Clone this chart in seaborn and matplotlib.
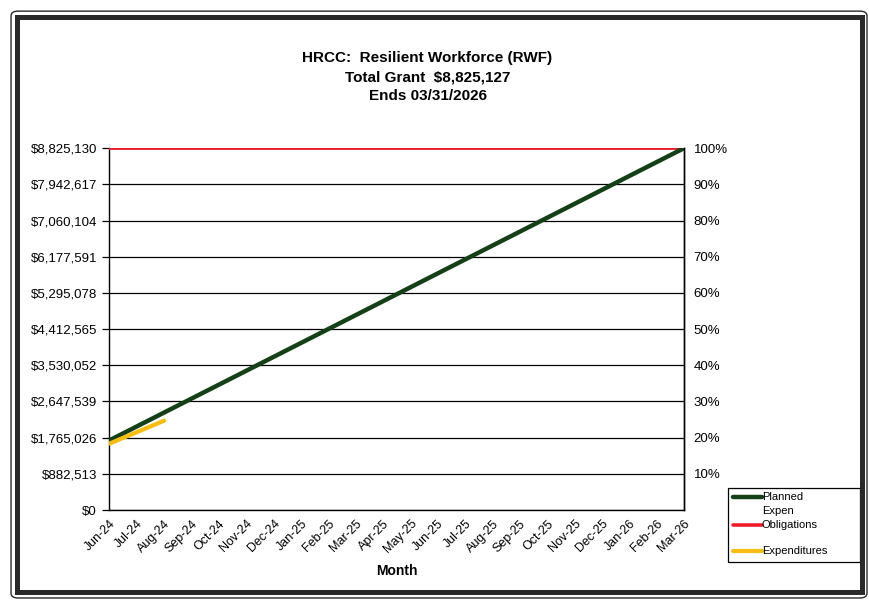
import matplotlib
matplotlib.use("Agg")
import matplotlib.pyplot as plt
from matplotlib.patches import Rectangle, FancyBboxPatch
from matplotlib.lines import Line2D
import seaborn as sns
import pandas as pd

months = ["Jun-24", "Jul-24", "Aug-24", "Sep-24", "Oct-24", "Nov-24", "Dec-24",
          "Jan-25", "Feb-25", "Mar-25", "Apr-25", "May-25", "Jun-25", "Jul-25",
          "Aug-25", "Sep-25", "Oct-25", "Nov-25", "Dec-25", "Jan-26", "Feb-26",
          "Mar-26"]

planned_expen = [1700000, 2039292, 2378584, 2717876, 3057168, 3396460, 3735752,
                 4075044, 4414336, 4753628, 5092920, 5432212, 5771504, 6110796,
                 6450088, 6789380, 7128672, 7467964, 7807256, 8146548, 8485840,
                 8825127]
obligations = [8825127] * 22
expenditures = [1620000, 1900000, 2180000]

y_ticks = [0, 882513, 1765026, 2647539, 3530052, 4412565, 5295078, 6177591,
           7060104, 7942617, 8825130]
y_labels = ["$0", "$882,513", "$1,765,026", "$2,647,539", "$3,530,052",
            "$4,412,565", "$5,295,078", "$6,177,591", "$7,060,104",
            "$7,942,617", "$8,825,130"]
pct_ticks = [0.1, 0.2, 0.3, 0.4, 0.5, 0.6, 0.7, 0.8, 0.9, 1.0]
pct_labels = ["10%", "20%", "30%", "40%", "50%", "60%", "70%", "80%", "90%", "100%"]

title_lines = ["HRCC:  Resilient Workforce (RWF)", "Total Grant  $8,825,127",
               "Ends 03/31/2026"]

green = "#143f17"
red = "#ee1c2a"
yellow = "#f7bd10"

sns.set_theme(style="white")
plt.rcParams["font.family"] = ["Liberation Sans", "DejaVu Sans"]
plt.rcParams["text.color"] = "black"
plt.rcParams["axes.labelcolor"] = "black"
plt.rcParams["xtick.color"] = "black"
plt.rcParams["ytick.color"] = "black"

rows = []
for i in range(len(months)):
    rows.append({"idx": i, "value": planned_expen[i], "series": "Planned Expen"})
    rows.append({"idx": i, "value": obligations[i], "series": "Obligations"})
for i, v in enumerate(expenditures):
    rows.append({"idx": i, "value": v, "series": "Expenditures"})
df = pd.DataFrame(rows)

fig = plt.figure(figsize=(8.69, 6.05), dpi=100)
ax = fig.add_axes([0.126, 0.157, 0.661, 0.598])

palette = {"Planned Expen": green, "Obligations": red, "Expenditures": yellow}
widths = {"Planned Expen": 3.2, "Obligations": 2.0, "Expenditures": 3.0}
for name in ["Obligations", "Planned Expen", "Expenditures"]:
    sub = df[df["series"] == name]
    sns.lineplot(data=sub, x="idx", y="value", color=palette[name],
                 linewidth=widths[name], ax=ax, legend=False, zorder=3)

ax.set_xlim(0, len(months) - 1)
ax.set_ylim(0, y_ticks[-1])
ax.set_yticks(y_ticks)
ax.set_yticklabels(y_labels, fontsize=9.5)
ax.set_xticks(range(len(months)))
ax.set_xticklabels(months, rotation=45, ha="right", rotation_mode="anchor",
                   fontsize=9)
ax.set_xlabel("Month", fontsize=10, fontweight="bold", labelpad=6)
ax.set_ylabel("")
ax.grid(axis="y", color="black", linewidth=0.9)
ax.set_axisbelow(True)
for side in ["left", "bottom", "right"]:
    ax.spines[side].set_color("black")
    ax.spines[side].set_linewidth(1.0)
ax.spines["top"].set_visible(False)
ax.tick_params(axis="x", direction="inout", length=7, width=0.9, pad=2)
ax.tick_params(axis="y", direction="out", length=5, width=0.9, pad=4)

ax2 = ax.twinx()
ax2.set_ylim(0, 1)
ax2.set_yticks(pct_ticks)
ax2.set_yticklabels(pct_labels, fontsize=9.5)
ax2.tick_params(axis="y", direction="out", length=0, pad=7)
for side in ["left", "top", "bottom"]:
    ax2.spines[side].set_visible(False)
ax2.spines["right"].set_color("black")
ax2.spines["right"].set_linewidth(1.0)
ax2.grid(False)

ys = [0.904, 0.872, 0.842]
for t, y in zip(title_lines, ys):
    fig.text(0.492, y, t, ha="center", va="center", fontsize=11,
             fontweight="bold")

# legend box; each handle sits level with the first line of its label
fig.add_artist(Rectangle((0.838, 0.071), 0.152, 0.122, transform=fig.transFigure,
                         fill=False, edgecolor="black", linewidth=0.9))
legend_items = [(["Planned", "Expen"], green, 3.2, 497),
                (["Obligations"], red, 2.6, 525),
                (["Expenditures"], yellow, 3.0, 551)]
for lines, color, lw, py in legend_items:
    yf = 1 - py / 605
    fig.add_artist(Line2D([733 / 869, 762 / 869], [yf, yf],
                          transform=fig.transFigure, color=color, linewidth=lw))
    for k, line in enumerate(lines):
        fig.text(762 / 869, 1 - (py + 13.5 * k) / 605, line, ha="left",
                 va="center", fontsize=8)

# double outer frame
fig.add_artist(Rectangle((0.0196, 0.0215), 0.972, 0.950, transform=fig.transFigure,
                         fill=False, edgecolor="#2a2a2a", linewidth=3.6))
fig.add_artist(FancyBboxPatch((0.0127, 0.0116), 0.985, 0.970,
                              boxstyle="round,pad=0,rounding_size=0.008",
                              transform=fig.transFigure, fill=False,
                              edgecolor="#2a2a2a", linewidth=1.0))

fig.savefig("out.png", dpi=100, facecolor="white")
